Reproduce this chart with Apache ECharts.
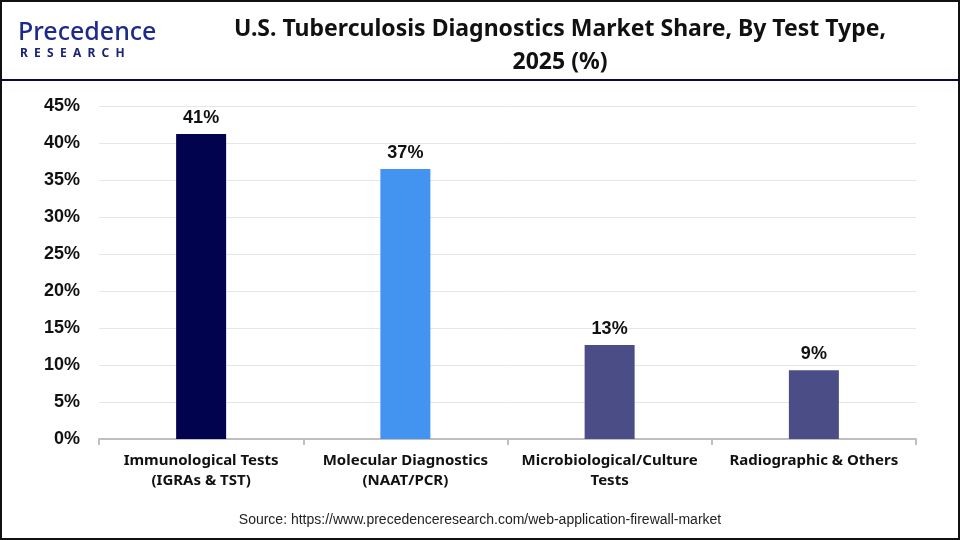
<!DOCTYPE html>
<html>
<head>
<meta charset="utf-8">
<script src="https://cdn.jsdelivr.net/npm/echarts@6/dist/echarts.min.js"></script>
<style>
  html, body { margin: 0; padding: 0; background: #fff; }
  #chart { width: 960px; height: 540px; }
</style>
</head>
<body>
<div id="chart"></div>
<script>
var categories = ['Immunological Tests\n(IGRAs & TST)', 'Molecular Diagnostics\n(NAAT/PCR)', 'Microbiological/Culture\nTests', 'Radiographic & Others'];
var shares = [41.2, 36.5, 12.7, 9.3];
var shareLabels = ['41%', '37%', '13%', '9%'];
var barColors = ['#02034f', '#4393f0', '#4a4d86', '#4a4d86'];

var chart = echarts.init(document.getElementById('chart'));
chart.setOption({
    backgroundColor: '#fff',
    animation: false,
    grid: { left: 99, right: 44, top: 106, bottom: 101 },
    graphic: [
        // outer frame
        { type: 'rect', shape: { x: 1, y: 1, width: 958, height: 538 },
          style: { fill: 'none', stroke: '#111', lineWidth: 2 }, z: 100 },
        // header separator
        { type: 'line', shape: { x1: 0, y1: 80, x2: 960, y2: 80 },
          style: { stroke: '#0b0b3f', lineWidth: 2 } },
        // logo
        { type: 'text', left: 18, top: 20,
          style: { text: 'Precedence', font: '500 25px "Noto Sans"', fill: '#1d2a8a' } },
        { type: 'text', left: 20, top: 48,
          style: { text: 'R  E  S  E  A  R  C  H', font: 'bold 12px "Noto Sans"', fill: '#1a2470' } },
        // title
        { type: 'text', x: 560, y: 13,
          style: { text: 'U.S. Tuberculosis Diagnostics Market Share, By Test Type,\n2025 (%)',
                   font: 'bold 23px "Noto Sans"', fill: '#111', align: 'center', lineHeight: 33 } },
        // source
        { type: 'text', x: 480, y: 513,
          style: { text: 'Source: https://www.precedenceresearch.com/web-application-firewall-market',
                   font: '14px "Liberation Sans"', fill: '#222', align: 'center' } }
    ],
    xAxis: {
        type: 'category',
        data: categories,
        axisLine: { lineStyle: { color: '#bfbfbf', width: 2 } },
        axisTick: { show: true, length: 6, lineStyle: { color: '#bfbfbf', width: 2 } },
        axisLabel: { color: '#111', fontFamily: 'Noto Sans', fontWeight: 'bold', fontSize: 15,
                     lineHeight: 20, margin: 12, interval: 0 }
    },
    yAxis: {
        type: 'value',
        min: 0,
        max: 45,
        interval: 5,
        axisLine: { show: false },
        axisTick: { show: false },
        axisLabel: { formatter: '{value}%', color: '#111', fontFamily: 'Liberation Sans',
                     fontWeight: 'bold', fontSize: 18, margin: 19, padding: [3, 0, 0, 0] },
        splitLine: { lineStyle: { color: '#e6e6e6', width: 1 } }
    },
    series: [{
        type: 'bar',
        barWidth: 50,
        data: shares.map(function (v, i) {
            return { value: v, itemStyle: { color: barColors[i] } };
        }),
        label: {
            show: true,
            position: 'top',
            distance: 7,
            formatter: function (p) { return shareLabels[p.dataIndex]; },
            color: '#111',
            fontFamily: 'Liberation Sans',
            fontWeight: 'bold',
            fontSize: 18
        }
    }]
});
</script>
</body>
</html>
